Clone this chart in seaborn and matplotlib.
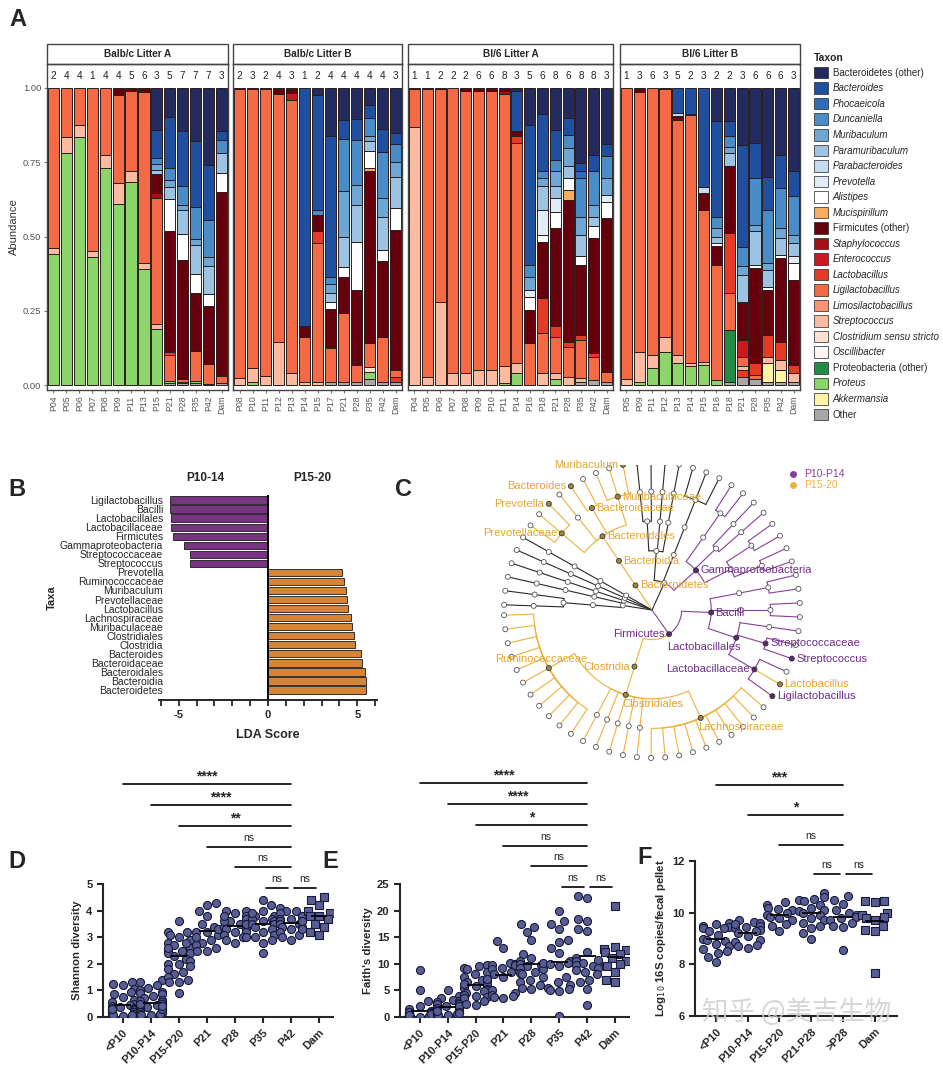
"""Microbiota development figure: taxa bars, LEfSe, cladogram, diversity."""

import matplotlib

matplotlib.use("Agg")
import matplotlib.pyplot as plt
import matplotlib.transforms as mtransforms
import numpy as np
import pandas as pd
import seaborn as sns
from matplotlib.lines import Line2D
from matplotlib.patches import Patch, Rectangle

# ---------------- Panel A: taxa (legend order, top of stack first)
TAXON_CODES = ["BO", "BA", "PH", "DU", "MU", "PM", "PB", "PV", "AL", "MC", "FO", "SA",
               "EN", "LA", "LI", "LM", "ST", "CL", "OS", "PO", "PR", "AK", "OT"]
TAXON_NAMES = ["Bacteroidetes (other)", "Bacteroides", "Phocaeicola", "Duncaniella",
               "Muribaculum", "Paramuribaculum", "Parabacteroides", "Prevotella",
               "Alistipes", "Mucispirillum", "Firmicutes (other)", "Staphylococcus",
               "Enterococcus", "Lactobacillus", "Ligilactobacillus", "Limosilactobacillus",
               "Streptococcus", "Clostridium sensu stricto", "Oscillibacter",
               "Proteobacteria (other)", "Proteus", "Akkermansia", "Other"]
TAXON_COLORS = ["#222a5e", "#1f4f9e", "#2f6db5", "#4a8cc8", "#6ea6d6", "#9dc3e3",
                "#c6dbef", "#e2ecf7", "#ffffff", "#f6ae5c", "#67000d", "#a50f15",
                "#cb181d", "#e53a25", "#f46a45", "#f99373", "#fcbba1", "#fee0d2",
                "#fff5f0", "#238b45", "#8cd56a", "#fff3a6", "#a8a8a8"]

# each sample: (taxon, upper edge of its segment), listed bottom -> top
BALBC_A_SAMPLES = ["P04", "P05", "P06", "P07", "P08", "P09", "P11", "P13", "P15",
                   "P21", "P28", "P35", "P42", "Dam"]
BALBC_A_N = [2, 4, 4, 1, 4, 4, 5, 6, 3, 5, 7, 7, 7, 3]
BALBC_A_TOPS = [
    [("PR", .44), ("ST", .46), ("LI", 1.0)],
    [("PR", .78), ("ST", .835), ("LI", 1.0)],
    [("PR", .835), ("ST", .875), ("LI", 1.0)],
    [("PR", .43), ("ST", .45), ("LI", 1.0)],
    [("PR", .73), ("ST", .775), ("LI", 1.0)],
    [("PR", .61), ("ST", .68), ("LI", .975), ("FO", 1.0)],
    [("PR", .685), ("ST", .72), ("LI", .99), ("FO", 1.0)],
    [("PR", .39), ("ST", .41), ("LI", .985), ("FO", 1.0)],
    [("PR", .19), ("ST", .205), ("LI", .63), ("SA", .645), ("FO", .71), ("PM", .725),
     ("MU", .745), ("DU", .765), ("BA", .86), ("BO", 1.0)],
    [("OT", .008), ("PR", .015), ("LI", .10), ("LA", .11), ("FO", .52), ("AL", .625),
     ("PM", .665), ("MU", .69), ("DU", .73), ("BA", .903), ("BO", 1.0)],
    [("OT", .006), ("ST", .01), ("LI", .02), ("FO", .42), ("AL", .51), ("PM", .59),
     ("MU", .605), ("DU", .67), ("BA", .855), ("BO", 1.0)],
    [("OT", .008), ("PR", .015), ("LI", .115), ("FO", .31), ("AL", .375), ("PM", .47),
     ("MU", .49), ("DU", .60), ("BA", .82), ("BO", 1.0)],
    [("OT", .005), ("LI", .07), ("FO", .265), ("AL", .305), ("PM", .40), ("MU", .43),
     ("DU", .555), ("BA", .74), ("BO", 1.0)],
    [("OT", .008), ("LI", .03), ("FO", .65), ("AL", .715), ("PM", .78), ("DU", .825),
     ("BA", .855), ("BO", 1.0)],
]

BALBC_B_SAMPLES = ["P08", "P10", "P11", "P12", "P13", "P14", "P15", "P17", "P21",
                   "P28", "P35", "P42", "Dam"]
BALBC_B_N = [2, 3, 2, 4, 3, 1, 2, 4, 4, 4, 4, 4, 3]
BALBC_B_TOPS = [
    [("ST", .025), ("LI", .995), ("FO", 1.0)],
    [("PR", .01), ("ST", .056), ("LI", .995), ("FO", 1.0)],
    [("ST", .03), ("LI", .995), ("FO", 1.0)],
    [("ST", .145), ("LI", .98), ("FO", 1.0)],
    [("ST", .04), ("LI", .958), ("EN", .983), ("FO", 1.0)],
    [("ST", .01), ("LI", .163), ("FO", .20), ("BA", 1.0)],
    [("ST", .011), ("LI", .478), ("LA", .52), ("FO", .573), ("DU", .59), ("BA", .978),
     ("BO", 1.0)],
    [("OT", .01), ("LI", .124), ("FO", .255), ("AL", .278), ("PM", .31), ("MU", .34),
     ("DU", .365), ("BA", .84), ("BO", 1.0)],
    [("OT", .01), ("LI", .242), ("FO", .363), ("AL", .397), ("PM", .50), ("MU", .652),
     ("DU", .828), ("BA", .893), ("BO", 1.0)],
    [("OT", .011), ("LI", .067), ("FO", .32), ("AL", .483), ("PM", .607), ("MU", .674),
     ("DU", .826), ("BA", .895), ("BO", 1.0)],
    [("OT", .02), ("PR", .045), ("CL", .06), ("LI", .14), ("FO", .72), ("MC", .73),
     ("AL", .787), ("PM", .82), ("MU", .837), ("DU", .90), ("BA", .944), ("BO", 1.0)],
    [("OT", .011), ("LI", .163), ("FO", .416), ("AL", .455), ("PM", .567), ("MU", .63),
     ("DU", .783), ("BA", .862), ("BO", 1.0)],
    [("OT", .01), ("LA", .028), ("LI", .05), ("FO", .522), ("AL", .596), ("PM", .702),
     ("MU", .75), ("DU", .81), ("BA", .85), ("BO", 1.0)],
]

BL6_A_SAMPLES = ["P04", "P05", "P06", "P07", "P08", "P09", "P10", "P11", "P14", "P16",
                 "P18", "P21", "P28", "P35", "P42", "Dam"]
BL6_A_N = [1, 1, 2, 2, 2, 6, 6, 8, 3, 5, 6, 8, 6, 8, 8, 3]
BL6_A_TOPS = [
    [("ST", .87), ("LI", .995), ("FO", 1.0)],
    [("ST", .028), ("LI", .995), ("FO", 1.0)],
    [("ST", .28), ("LI", .995), ("FO", 1.0)],
    [("ST", .039), ("LI", 1.0)],
    [("ST", .04), ("LI", .99), ("FO", 1.0)],
    [("ST", .05), ("LI", .99), ("FO", 1.0)],
    [("ST", .05), ("LI", .99), ("FO", 1.0)],
    [("PR", .006), ("ST", .064), ("LI", .98), ("SA", .99), ("FO", 1.0)],
    [("PR", .039), ("ST", .073), ("LI", .815), ("LA", .84), ("FO", .854), ("BA", .99),
     ("BO", 1.0)],
    [("LI", .14), ("FO", .253), ("AL", .298), ("PV", .32), ("MU", .365), ("DU", .404),
     ("BA", .876), ("BO", 1.0)],
    [("ST", .039), ("LI", .174), ("LA", .292), ("FO", .483), ("AL", .506), ("PV", .59),
     ("PM", .669), ("MU", .697), ("DU", .72), ("BA", .912), ("BO", 1.0)],
    [("PR", .02), ("ST", .039), ("LI", .163), ("LA", .197), ("FO", .528), ("AL", .584),
     ("PV", .629), ("PM", .669), ("MU", .719), ("DU", .758), ("BA", .86), ("BO", 1.0)],
    [("ST", .028), ("LI", .129), ("LA", .146), ("FO", .623), ("MC", .657), ("AL", .697),
     ("PM", .736), ("MU", .798), ("DU", .843), ("BA", .90), ("BO", 1.0)],
    [("OT", .01), ("ST", .022), ("LI", .152), ("LA", .169), ("FO", .404), ("AL", .433),
     ("PM", .506), ("MU", .567), ("DU", .697), ("PH", .72), ("BA", .747), ("BO", 1.0)],
    [("OT", .017), ("LI", .095), ("LA", .107), ("FO", .494), ("AL", .534), ("PM", .567),
     ("MU", .607), ("DU", .72), ("BA", .775), ("BO", 1.0)],
    [("OT", .01), ("LI", .045), ("FO", .562), ("AL", .615), ("PV", .64), ("MU", .697),
     ("DU", .77), ("BA", .81), ("BO", 1.0)],
]

BL6_B_SAMPLES = ["P05", "P09", "P11", "P12", "P13", "P14", "P15", "P16", "P18", "P21",
                 "P28", "P35", "P42", "Dam"]
BL6_B_N = [1, 3, 6, 3, 5, 2, 3, 2, 2, 3, 6, 6, 6, 3]
BL6_B_TOPS = [
    [("ST", .02), ("LI", 1.0)],
    [("PR", .01), ("ST", .112), ("LI", .985), ("FO", 1.0)],
    [("PR", .056), ("ST", .10), ("LI", 1.0)],
    [("PR", .112), ("ST", .163), ("LI", .995), ("FO", 1.0)],
    [("PR", .073), ("ST", .10), ("LI", .893), ("FO", .905), ("PB", .916), ("BA", 1.0)],
    [("PR", .065), ("ST", .075), ("LI", .91), ("FO", .914), ("BA", 1.0)],
    [("PR", .067), ("ST", .079), ("LI", .59), ("FO", .646), ("PB", .668), ("BA", 1.0)],
    [("PR", .017), ("LI", .405), ("FO", .467), ("AL", .478), ("PM", .50), ("MU", .527),
     ("DU", .566), ("BA", .888), ("BO", 1.0)],
    [("OT", .01), ("PO", .185), ("LI", .309), ("LA", .511), ("FO", .736), ("PM", .78),
     ("MU", .80), ("DU", .837), ("BA", .888), ("BO", 1.0)],
    [("OT", .028), ("LA", .05), ("ST", .065), ("LI", .095), ("EN", .152), ("FO", .275),
     ("AL", .281), ("PM", .371), ("MU", .40), ("DU", .466), ("BA", .809), ("BO", 1.0)],
    [("OT", .02), ("LI", .035), ("LA", .073), ("FO", .395), ("AL", .404), ("PM", .52),
     ("MU", .54), ("DU", .697), ("BA", .815), ("BO", 1.0)],
    [("OT", .011), ("AK", .073), ("ST", .095), ("LA", .169), ("FO", .32), ("AL", .331),
     ("PM", .388), ("MU", .41), ("DU", .59), ("BA", .702), ("BO", 1.0)],
    [("OT", .011), ("AK", .05), ("ST", .084), ("LA", .146), ("FO", .427), ("AL", .438),
     ("PM", .494), ("MU", .528), ("DU", .663), ("BA", .775), ("BO", 1.0)],
    [("OT", .011), ("ST", .04), ("LA", .067), ("FO", .354), ("AL", .41), ("PV", .433),
     ("PM", .478), ("MU", .506), ("DU", .635), ("BA", .722), ("BO", 1.0)],
]

# ---------------- Panel B: LEfSe
LDA_TAXA = ["Ligilactobacillus", "Bacilli", "Lactobacillales", "Lactobacillaceae",
            "Firmicutes", "Gammaproteobacteria", "Streptococcaceae", "Streptococcus",
            "Prevotella", "Ruminococcaceae", "Muribaculum", "Prevotellaceae",
            "Lactobacillus", "Lachnospiraceae", "Muribaculaceae", "Clostridiales",
            "Clostridia", "Bacteroides", "Bacteroidaceae", "Bacteroidales", "Bacteroidia",
            "Bacteroidetes"]
LDA_SCORES = [-5.47, -5.46, -5.45, -5.41, -5.34, -4.71, -4.38, -4.37, 4.14, 4.25, 4.36,
              4.42, 4.47, 4.64, 4.70, 4.80, 4.86, 5.19, 5.25, 5.44, 5.46, 5.47]

# ---------------- Panel C: cladogram leaves (phylum;class;order;family;genus)
CLADE_LEAVES = [
    "Actinobacteria;Coriobacteriia;Coriobacteriales;Eggerthellaceae;Enterorhabdus",
    "Actinobacteria;Coriobacteriia;Coriobacteriales;Atopobiaceae;Olsenella",
    "Actinobacteria;Actinobacteria;Bifidobacteriales;Bifidobacteriaceae;Bifidobacterium",
    "Verrucomicrobia;Verrucomicrobiae;Verrucomicrobiales;Akkermansiaceae;Akkermansia",
    "Deferribacteres;Deferribacteres;Deferribacterales;Deferribacteraceae;Mucispirillum",
    "Tenericutes;Mollicutes;Anaeroplasmatales;Anaeroplasmataceae;Anaeroplasma",
    "Bacteroidetes;Bacteroidia;Bacteroidales;Prevotellaceae;Alloprevotella",
    "Bacteroidetes;Bacteroidia;Bacteroidales;Prevotellaceae;Prevotellaceae UCG-001",
    "Bacteroidetes;Bacteroidia;Bacteroidales;Prevotellaceae;Prevotella",
    "Bacteroidetes;Bacteroidia;Bacteroidales;Rikenellaceae;Alistipes",
    "Bacteroidetes;Bacteroidia;Bacteroidales;Bacteroidaceae;Bacteroides",
    "Bacteroidetes;Bacteroidia;Bacteroidales;Bacteroidaceae;Phocaeicola",
    "Bacteroidetes;Bacteroidia;Bacteroidales;Muribaculaceae;Duncaniella",
    "Bacteroidetes;Bacteroidia;Bacteroidales;Muribaculaceae;Paramuribaculum",
    "Bacteroidetes;Bacteroidia;Bacteroidales;Muribaculaceae;Muribaculum",
    "Proteobacteria;Alphaproteobacteria;Rhizobiales;Rhizobiaceae;Rhizobium",
    "Proteobacteria;Alphaproteobacteria;Rhizobiales;Beijerinckiaceae;Methylobacterium",
    "Proteobacteria;Alphaproteobacteria;Sphingomonadales;Sphingomonadaceae;Sphingomonas",
    "Proteobacteria;Alphaproteobacteria;Rhodospirillales;Acetobacteraceae;Acetobacter",
    "Proteobacteria;Deltaproteobacteria;Desulfovibrionales;Desulfovibrionaceae;Desulfovibrio",
    "Proteobacteria;Deltaproteobacteria;Desulfovibrionales;Desulfovibrionaceae;Bilophila",
    "Proteobacteria;Deltaproteobacteria;Desulfovibrionales;Desulfovibrionaceae;Mailhella",
    "Proteobacteria;Gammaproteobacteria;Betaproteobacteriales;Burkholderiaceae;Parasutterella",
    "Proteobacteria;Gammaproteobacteria;Betaproteobacteriales;Burkholderiaceae;Sutterella",
    "Proteobacteria;Gammaproteobacteria;Pseudomonadales;Pseudomonadaceae;Pseudomonas",
    "Proteobacteria;Gammaproteobacteria;Pseudomonadales;Moraxellaceae;Acinetobacter",
    "Proteobacteria;Gammaproteobacteria;Enterobacteriales;Enterobacteriaceae;Escherichia",
    "Proteobacteria;Gammaproteobacteria;Enterobacteriales;Enterobacteriaceae;Klebsiella",
    "Proteobacteria;Gammaproteobacteria;Enterobacteriales;Morganellaceae;Proteus",
    "Proteobacteria;Gammaproteobacteria;Enterobacteriales;Morganellaceae;Morganella",
    "Firmicutes;Bacilli;Erysipelotrichales;Erysipelotrichaceae;Turicibacter",
    "Firmicutes;Bacilli;Erysipelotrichales;Erysipelotrichaceae;Dubosiella",
    "Firmicutes;Bacilli;Bacillales;Staphylococcaceae;Staphylococcus",
    "Firmicutes;Bacilli;Bacillales;Staphylococcaceae;Jeotgalicoccus",
    "Firmicutes;Bacilli;Lactobacillales;Enterococcaceae;Enterococcus",
    "Firmicutes;Bacilli;Lactobacillales;Streptococcaceae;Lactococcus",
    "Firmicutes;Bacilli;Lactobacillales;Streptococcaceae;Streptococcus",
    "Firmicutes;Bacilli;Lactobacillales;Lactobacillaceae;Limosilactobacillus",
    "Firmicutes;Bacilli;Lactobacillales;Lactobacillaceae;Lactobacillus",
    "Firmicutes;Bacilli;Lactobacillales;Lactobacillaceae;Ligilactobacillus",
    "Firmicutes;Clostridia;Clostridiales;Lachnospiraceae;Lachnoclostridium",
    "Firmicutes;Clostridia;Clostridiales;Lachnospiraceae;Roseburia",
    "Firmicutes;Clostridia;Clostridiales;Lachnospiraceae;Blautia",
    "Firmicutes;Clostridia;Clostridiales;Lachnospiraceae;Dorea",
    "Firmicutes;Clostridia;Clostridiales;Lachnospiraceae;Marvinbryantia",
    "Firmicutes;Clostridia;Clostridiales;Lachnospiraceae;Acetatifactor",
    "Firmicutes;Clostridia;Clostridiales;Lachnospiraceae;Lachnospiraceae NK4A136",
    "Firmicutes;Clostridia;Clostridiales;Lachnospiraceae;Tyzzerella",
    "Firmicutes;Clostridia;Clostridiales;Lachnospiraceae;Anaerostipes",
    "Firmicutes;Clostridia;Clostridiales;Lachnospiraceae;Eisenbergiella",
    "Firmicutes;Clostridia;Clostridiales;Peptostreptococcaceae;Romboutsia",
    "Firmicutes;Clostridia;Clostridiales;Clostridiaceae;Clostridium sensu stricto",
    "Firmicutes;Clostridia;Clostridiales;Peptococcaceae;Peptococcus",
    "Firmicutes;Clostridia;Clostridiales;Family XIII;Anaerovorax",
    "Firmicutes;Clostridia;Clostridiales;Christensenellaceae;Christensenella",
    "Firmicutes;Clostridia;Clostridiales;Ruminococcaceae;Oscillibacter",
    "Firmicutes;Clostridia;Clostridiales;Ruminococcaceae;Oscillospira",
    "Firmicutes;Clostridia;Clostridiales;Ruminococcaceae;Ruminococcus",
    "Firmicutes;Clostridia;Clostridiales;Ruminococcaceae;Ruminiclostridium",
    "Firmicutes;Clostridia;Clostridiales;Ruminococcaceae;Anaerotruncus",
    "Firmicutes;Clostridia;Clostridiales;Ruminococcaceae;Harryflintia",
    "Firmicutes;Clostridia;Clostridiales;Ruminococcaceae;Negativibacillus",
    "Firmicutes;Clostridia;Clostridiales;Ruminococcaceae;Intestinimonas",
    "Firmicutes;Clostridia;Clostridiales;Ruminococcaceae;Butyricicoccus",
    "Firmicutes;Clostridia;Clostridiales;Ruminococcaceae;Faecalibacterium",
    "Firmicutes;Clostridia;Clostridiales;Ruminococcaceae;Angelakisella",
]
CLADE_P10_14 = ["Firmicutes", "Bacilli", "Lactobacillales", "Lactobacillaceae",
                "Ligilactobacillus", "Streptococcaceae", "Streptococcus",
                "Gammaproteobacteria"]
CLADE_P15_20 = ["Bacteroidetes", "Bacteroidia", "Bacteroidales", "Bacteroidaceae",
                "Bacteroides", "Muribaculaceae", "Muribaculum", "Prevotellaceae",
                "Prevotella", "Clostridia", "Clostridiales", "Lachnospiraceae",
                "Ruminococcaceae", "Lactobacillus"]

# ---------------- Panels D-F: per-sample values
AGE_GROUPS = ["<P10", "P10-P14", "P15-P20", "P21", "P28", "P35", "P42", "Dam"]
SHANNON_VALUES = [
    [1.3, 1.25, 1.2, 1.05, .95, .85, .75, .65, .55, .5, .45, .4, .38, .35, .32, .3, .28,
     .25, .25, .22, .2, .2, .18, .15, .12, .1, .08, .06, .05, .3],
    [1.4, 1.3, 1.2, 1.1, 1.0, .95, .9, .85, .8, .7, .65, .6, .55, .5, .45, .4, .38, .35,
     .3, .28, .25, .22, .2, .18, .15, .12, .1, .08, .06, .3, .4, .5],
    [3.6, 3.2, 3.2, 3.0, 2.9, 2.8, 2.7, 2.6, 2.6, 2.5, 2.5, 2.4, 2.4, 2.3, 2.2, 2.1, 2.0,
     2.0, 1.9, 1.8, 1.7, 1.6, 1.5, 1.4, 1.3, 1.3, .9, 2.8, 2.6, 3.1],
    [4.3, 4.2, 4.0, 3.8, 3.5, 3.4, 3.2, 3.2, 3.1, 3.0, 2.9, 2.8, 2.7, 2.6, 2.5, 2.5, 3.3],
    [4.0, 4.0, 3.9, 3.8, 3.7, 3.6, 3.5, 3.5, 3.4, 3.4, 3.3, 3.3, 3.2, 3.2, 3.1, 3.0, 3.0,
     2.9, 2.8, 3.6, 3.5, 3.8],
    [4.4, 4.2, 4.0, 3.8, 3.8, 3.7, 3.7, 3.6, 3.6, 3.5, 3.5, 3.4, 3.3, 3.2, 3.1, 3.0, 2.9,
     2.8, 2.4, 3.9],
    [4.1, 4.0, 4.0, 3.9, 3.8, 3.8, 3.7, 3.7, 3.6, 3.6, 3.5, 3.5, 3.5, 3.4, 3.4, 3.3, 3.2,
     3.1, 3.0, 2.9, 3.6, 3.3],
    [4.5, 4.4, 4.2, 4.0, 3.9, 3.8, 3.8, 3.7, 3.5, 3.4, 3.2, 3.1],
]
FAITH_VALUES = [
    [8.8, 5.0, 3.0, 2.0, 1.5, 1.2, 1.0, .9, .8, .7, .6, .5, .5, .4, .4, .3, .3, .2, .2,
     .1, .1, .05, 1.0, .8, .6, .3],
    [5.1, 4.0, 3.5, 3.2, 3.0, 2.8, 2.6, 2.4, 2.2, 2.0, 2.0, 1.8, 1.6, 1.5, 1.4, 1.2, 1.0,
     1.0, .8, .6, .5, .4, .3, 2.5, 1.7, 1.3, 2.1, .9, 1.1, .7],
    [9.8, 9.5, 9.2, 9.0, 8.5, 8.0, 7.5, 7.0, 6.8, 6.5, 6.0, 5.8, 5.5, 5.2, 5.0, 4.8, 4.5,
     4.2, 4.0, 3.8, 3.5, 3.0, 2.5, 2.2, 6.2, 7.2],
    [14.2, 13.0, 10.2, 10.0, 9.8, 9.5, 9.2, 9.0, 8.5, 8.0, 7.5, 5.0, 4.5, 4.2, 4.0, 3.8,
     3.6, 9.7],
    [17.4, 17.0, 16.0, 14.5, 11.8, 11.0, 10.5, 10.0, 9.8, 9.5, 9.2, 9.0, 8.5, 8.2, 8.0,
     7.5, 7.0, 6.5, 6.0, 5.5, 5.3, 10.2],
    [20.0, 18.0, 17.5, 16.5, 14.5, 13.0, 12.0, 10.5, 10.2, 10.0, 9.5, 7.5, 6.5, 6.0, 5.5,
     5.2, 5.0, 4.8, 0.2, 14.0],
    [22.7, 22.3, 18.5, 18.0, 16.5, 16.2, 12.3, 11.0, 10.5, 10.2, 10.0, 9.8, 9.5, 9.2, 8.8,
     8.5, 8.0, 7.0, 6.5, 5.3, 2.3, 10.8],
    [20.8, 13.2, 12.8, 12.5, 12.2, 11.8, 11.0, 10.5, 10.0, 9.5, 8.5, 7.0, 6.5],
]
COPY_GROUPS = ["<P10", "P10-P14", "P15-P20", "P21-P28", ">P28", "Dam"]
COPY_VALUES = [
    [9.6, 9.55, 9.5, 9.45, 9.4, 9.4, 9.3, 9.15, 9.0, 8.95, 8.9, 8.8, 8.7, 8.6, 8.5, 8.45,
     8.3, 8.1],
    [9.7, 9.65, 9.6, 9.5, 9.45, 9.4, 9.35, 9.3, 9.2, 9.1, 8.95, 8.85, 8.75, 8.7, 8.65,
     9.55],
    [10.4, 10.3, 10.2, 10.15, 10.1, 10.0, 9.9, 9.85, 9.8, 9.7, 9.55, 9.5, 9.3],
    [10.75, 10.6, 10.55, 10.5, 10.45, 10.3, 10.2, 10.1, 10.05, 10.0, 9.9, 9.8, 9.7, 9.6,
     9.5, 9.4, 9.2, 9.0],
    [10.65, 10.5, 10.35, 10.1, 10.0, 9.9, 9.85, 9.8, 9.7, 9.6, 9.5, 9.45, 8.55],
    [10.45, 10.45, 10.4, 10.0, 9.9, 9.85, 9.8, 9.7, 9.5, 9.35, 9.3, 7.65],
]
# (first group, last group, label, stacking level)
SHANNON_BRACKETS = [(0, 6, "****", 5), (1, 6, "****", 4), (2, 6, "**", 3),
                    (3, 6, "ns", 2), (4, 6, "ns", 1), (5, 6, "ns", 0), (6, 7, "ns", 0)]
FAITH_BRACKETS = [(0, 6, "****", 5), (1, 6, "****", 4), (2, 6, "*", 3),
                  (3, 6, "ns", 2), (4, 6, "ns", 1), (5, 6, "ns", 0), (6, 7, "ns", 0)]
COPY_BRACKETS = [(0, 4, "***", 3), (1, 4, "*", 2), (2, 4, "ns", 1),
                 (3, 4, "ns", 0), (4, 5, "ns", 0)]

PURPLE = "#8a3f9e"
GOLD = "#eeb13e"
DOT_FILL = "#585d94"
DOT_EDGE = "#181a3a"
# where each highlighted cladogram label sits relative to its node
LABEL_SIDE = {"Prevotellaceae": "left", "Firmicutes": "left", "Lactobacillaceae": "left",
              "Clostridia": "left", "Lactobacillales": "below-left",
              "Ruminococcaceae": "above", "Clostridiales": "below",
              "Lachnospiraceae": "below"}

sns.set_style("ticks")
plt.rcParams["font.family"] = ["Liberation Sans", "DejaVu Sans", "Noto Sans CJK SC"]

W, H = 943, 1068
fig = plt.figure(figsize=(W / 100, H / 100), dpi=100)


def px_axes(x0, y0, x1, y1):
    return fig.add_axes([x0 / W, 1 - y1 / H, (x1 - x0) / W, (y1 - y0) / H])


# ---------------- Panel A
color_of = dict(zip(TAXON_CODES, TAXON_COLORS))
facets = [("Balb/c Litter A", BALBC_A_SAMPLES, BALBC_A_N, BALBC_A_TOPS, (47, 228)),
          ("Balb/c Litter B", BALBC_B_SAMPLES, BALBC_B_N, BALBC_B_TOPS, (233, 402)),
          ("Bl/6 Litter A", BL6_A_SAMPLES, BL6_A_N, BL6_A_TOPS, (408, 613)),
          ("Bl/6 Litter B", BL6_B_SAMPLES, BL6_B_N, BL6_B_TOPS, (620, 800))]
strip_h = 20 / 326
for k, (title, samples, counts, tops, (x0, x1)) in enumerate(facets):
    ax = px_axes(x0, 64, x1, 390)
    rows = []
    for i, segs in enumerate(tops):
        low = 0.0
        for code, up in segs:
            rows.append((i, code, low, up))
            low = up
    seg = pd.DataFrame(rows, columns=["pos", "code", "bottom", "top"])
    ax.bar(seg["pos"], seg["top"] - seg["bottom"], bottom=seg["bottom"], width=0.86,
           color=[color_of[c] for c in seg["code"]], edgecolor="#2b1d1d", linewidth=0.7)
    ax.set_xlim(-0.5, len(samples) - 0.5)
    ax.set_ylim(-0.0168, 1.0808)
    ax.set_xticks(range(len(samples)))
    ax.set_xticklabels(samples, rotation=90, fontsize=6.3, color="#555555")
    ax.tick_params(axis="x", length=2.5, color="#777777", pad=1.5)
    for i, n in enumerate(counts):
        ax.text(i, 1.042, str(n), ha="center", va="center", fontsize=7.2, color="#222222")
    ax.add_patch(Rectangle((0, 1), 1, strip_h, transform=ax.transAxes, clip_on=False,
                           facecolor="white", edgecolor="#444444", linewidth=1.0))
    ax.text(0.5, 1 + strip_h / 2, title, transform=ax.transAxes, ha="center",
            va="center", fontsize=7.2, fontweight="bold")
    for sp in ax.spines.values():
        sp.set_visible(True)
        sp.set_color("#444444")
        sp.set_linewidth(1.0)
    if k == 0:
        ax.set_yticks([0, 0.25, 0.5, 0.75, 1.0])
        ax.set_yticklabels(["0.00", "0.25", "0.50", "0.75", "1.00"], fontsize=6.8,
                           color="#555555")
        ax.tick_params(axis="y", length=2.5, color="#777777", pad=1.5)
        ax.set_ylabel("Abundance", fontsize=8, color="#333333", labelpad=3)
    else:
        ax.set_yticks([])

handles = [Patch(facecolor=c, edgecolor="#222222", linewidth=0.5) for c in TAXON_COLORS]
leg = fig.legend(handles, TAXON_NAMES, loc="upper left",
                 bbox_to_anchor=(810 / W, 1 - 49 / H), frameon=False, title="Taxon",
                 fontsize=7, handlelength=1.45, handleheight=1.45, labelspacing=0.41,
                 handletextpad=0.5, borderaxespad=0, alignment="left",
                 title_fontproperties={"weight": "bold", "size": 7.5})
for t in leg.get_texts():
    if "(other)" not in t.get_text() and t.get_text() != "Other":
        t.set_style("italic")

# ---------------- Panel B
lda = pd.DataFrame({"taxon": LDA_TAXA, "score": LDA_SCORES})
lda["group"] = np.where(lda["score"] < 0, "P10-14", "P15-20")
axb = px_axes(159, 495, 377, 700)
sns.barplot(data=lda, x="score", y="taxon", hue="group", order=LDA_TAXA,
            palette={"P10-14": "#80288c", "P15-20": "#f0841e"}, dodge=False,
            orient="h", width=0.8, edgecolor="#1a1a1a", linewidth=0.6, legend=False,
            ax=axb)
axb.set_xlim(-6.1, 6.1)
axb.set_ylim(22.1, -0.55)
axb.axvline(0, color="black", lw=1.4)
axb.spines[["left", "right", "top"]].set_visible(False)
axb.spines["bottom"].set_linewidth(1.4)
axb.set_xticks(range(-6, 7))
axb.set_xticklabels(["-5" if v == -5 else "0" if v == 0 else "5" if v == 5 else ""
                     for v in range(-6, 7)], fontsize=8, fontweight="bold")
axb.tick_params(axis="x", length=4, width=1.3)
axb.tick_params(axis="y", length=0, pad=-3, labelsize=7.5)
axb.set_ylabel("Taxa", fontsize=8, fontweight="bold", labelpad=2)
axb.set_xlabel("LDA Score", fontsize=9, fontweight="bold", labelpad=6)
blend = mtransforms.blended_transform_factory(axb.transData, axb.transAxes)
axb.text(-3.5, 1.083, "P10-14", transform=blend, ha="center", va="center",
         fontsize=8.5, fontweight="bold")
axb.text(2.5, 1.083, "P15-20", transform=blend, ha="center", va="center",
         fontsize=8.5, fontweight="bold")

# ---------------- Panel C: circular cladogram
axc = px_axes(400, 465, 940, 815)
R = 148
axc.set_xlim((400 - 652) / R, (940 - 652) / R)
axc.set_ylim((610 - 815) / R, (610 - 465) / R)
axc.axis("off")

children = {(): []}
for lin in CLADE_LEAVES:
    parts = tuple(lin.split(";"))
    for d in range(1, len(parts) + 1):
        if parts[:d] not in children:
            children[parts[:d]] = []
            children[parts[:d - 1]].append(parts[:d])
theta = {tuple(lin.split(";")): t for lin, t in
         zip(CLADE_LEAVES, np.deg2rad(np.linspace(178, -178, len(CLADE_LEAVES))))}


def place(node):
    if node not in theta:
        theta[node] = np.mean([place(c) for c in children[node]])
    return theta[node]


place(())


def clade_color(node):
    for name in reversed(node):
        if name in CLADE_P10_14:
            return PURPLE
        if name in CLADE_P15_20:
            return GOLD
    return "#2a2a2a"


for node, kids in children.items():
    r0 = len(node) / 5
    for kid in kids:
        col = clade_color(kid)
        t1 = theta[kid]
        r1 = len(kid) / 5
        if node:
            arc = np.linspace(theta[node], t1, 30)
            axc.plot(r0 * np.cos(arc), r0 * np.sin(arc), color=col, lw=0.8, zorder=1)
        axc.plot([r0 * np.cos(t1), r1 * np.cos(t1)], [r0 * np.sin(t1), r1 * np.sin(t1)],
                 color=col, lw=0.8, zorder=1)

nodes = [n for n in children if n]
nx = np.array([len(n) / 5 * np.cos(theta[n]) for n in nodes])
ny = np.array([len(n) / 5 * np.sin(theta[n]) for n in nodes])
sig = np.array([n[-1] in CLADE_P10_14 or n[-1] in CLADE_P15_20 for n in nodes])
fills = ["#5b2870" if n[-1] in CLADE_P10_14 else "#a8853a" if n[-1] in CLADE_P15_20
         else "white" for n in nodes]
axc.scatter(nx, ny, s=13, c=fills, edgecolors=np.where(sig, "#333333", "#555555"),
            linewidths=0.6, zorder=3)
for n, x, y, s in zip(nodes, nx, ny, sig):
    if not s:
        continue
    name = n[-1]
    col = "#6e2d8a" if name in CLADE_P10_14 else "#e6a52e"
    side = LABEL_SIDE.get(name, "left" if (len(n) == 5 and x < 0) else "right")
    if side == "left":
        pos, ha, va = (x - 0.03, y), "right", "center"
    elif side == "right":
        pos, ha, va = (x + 0.03, y), "left", "center"
    elif side == "above":
        pos, ha, va = (x - 0.05, y + 0.03), "center", "bottom"
    elif side == "below-left":
        pos, ha, va = (x + 0.03, y - 0.03), "right", "top"
    else:
        pos, ha, va = (x - 0.02, y - 0.025), "left", "top"
    axc.text(*pos, name, ha=ha, va=va, fontsize=8, color=col, zorder=4)
axc.legend(handles=[Line2D([], [], marker="o", ls="", color=PURPLE, markersize=4),
                    Line2D([], [], marker="o", ls="", color=GOLD, markersize=4)],
           labels=["P10-P14", "P15-20"], loc="upper left", frameon=False, fontsize=7.5,
           handletextpad=0.1, labelspacing=0.1, borderaxespad=0,
           labelcolor=[PURPLE, GOLD], bbox_to_anchor=(0.70, 1.0))


# ---------------- Panels D-F
def dot_panel(ax, groups, values, brackets, base, step, ylab, yticks, ylo, yhi):
    df = pd.DataFrame([(g, v) for g, vals in zip(groups, values) for v in vals],
                      columns=["group", "value"])
    common = dict(x="group", y="value", order=groups, color=DOT_FILL,
                  edgecolor=DOT_EDGE, linewidth=0.8, size=5.8, ax=ax, warn_thresh=1)
    sns.swarmplot(data=df[df["group"] != "Dam"], marker="o", **common)
    sns.swarmplot(data=df[df["group"] == "Dam"], marker="s", **common)
    means = df.groupby("group", sort=False)["value"].mean()
    for i, g in enumerate(groups):
        ax.hlines(means[g], i - 0.3, i + 0.3, color="black", lw=1.3, zorder=5)
    for i, j, lab, lev in brackets:
        y = base + lev * step
        trim = 0.1 if lev == 0 else 0.0
        ax.plot([i + trim, j - trim], [y, y], color="black", lw=1.2, clip_on=False)
        star = lab != "ns"
        ax.annotate(lab, ((i + j) / 2, y), xytext=(0, 5.5 if star else 6.5),
                    textcoords="offset points", ha="center", va="center",
                    fontsize=10 if star else 7.5, fontweight="bold" if star else "normal",
                    annotation_clip=False)
    ax.set_ylim(ylo, yhi)
    ax.set_yticks(yticks)
    ax.spines[["top", "right"]].set_visible(False)
    ax.spines["left"].set_bounds(yticks[0], yticks[-1])
    for s in ("left", "bottom"):
        ax.spines[s].set_linewidth(1.5)
    ax.tick_params(length=4, width=1.5, labelsize=8)
    for t in ax.get_yticklabels():
        t.set_fontweight("bold")
    ax.set_xticks(range(len(groups)))
    ax.set_xticklabels(groups, rotation=45, ha="right", rotation_mode="anchor",
                       fontsize=8, fontweight="bold")
    ax.set_xlabel("")
    ax.set_ylabel(ylab, fontsize=8.2, fontweight="bold", labelpad=3)
    # centre the axis title on the drawn spine, not on the whole axes
    ax.yaxis.label.set_y(((yticks[0] + yticks[-1]) / 2 - ylo) / (yhi - ylo))


axd = px_axes(103, 770, 333, 1017)
dot_panel(axd, AGE_GROUPS, SHANNON_VALUES, SHANNON_BRACKETS, 4.85, 0.78,
          "Shannon diversity", [0, 1, 2, 3, 4, 5], 0, 9.29)
axd.set_xlim(-0.71, 7.5)

axe = px_axes(400, 770, 629, 1017)
dot_panel(axe, AGE_GROUPS, FAITH_VALUES, FAITH_BRACKETS, 24.4, 3.9,
          "Faith's diversity", [0, 5, 10, 15, 20, 25], 0, 46.4)
axe.set_xlim(-0.71, 7.5)

axf = px_axes(695, 770, 897, 1016)
dot_panel(axf, COPY_GROUPS, COPY_VALUES, COPY_BRACKETS, 11.49, 1.15,
          "Log$_{10}$ 16S copies/fecal pellet", [6, 8, 10, 12], 6, 15.53)
axf.set_xlim(-0.66, 5.7)

# ---------------- panel letters and watermark
for letter, (px, py) in {"A": (18, 20), "B": (17, 490), "C": (403, 490),
                         "D": (17, 862), "E": (330, 862), "F": (645, 858)}.items():
    fig.text(px / W, 1 - py / H, letter, fontsize=17, fontweight="bold",
             ha="center", va="center")
fig.text(797 / W, 1 - 1012 / H, "知乎 @美吉生物", fontsize=19, color="#cfcfcf",
         alpha=0.85, ha="center", va="center", family=["Noto Sans CJK SC", "DejaVu Sans"],
         zorder=10)

fig.savefig("out.png", dpi=100)
